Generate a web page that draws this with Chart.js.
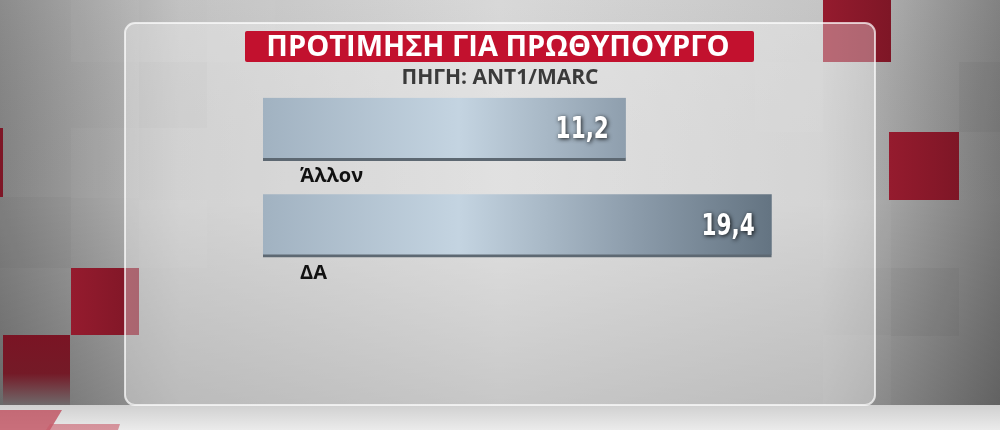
<!DOCTYPE html>
<html>
<head>
<meta charset="utf-8">
<script src="https://cdn.jsdelivr.net/npm/chart.js@4.4.1/dist/chart.umd.min.js"></script>
<style>
  html, body { margin: 0; padding: 0; background: #cfcfcf; }
  #wrap { width: 1000px; height: 430px; position: relative; }
</style>
</head>
<body>
<div id="wrap"><canvas id="pmChart" width="1000" height="430"></canvas></div>
<script>
// Data
const categories = ['Άλλον', 'ΔΑ'];
const values = [11.2, 19.4];
const chartTitle = 'ΠΡΟΤΙΜΗΣΗ ΓΙΑ ΠΡΩΘΥΠΟΥΡΓΟ';
const chartSource = 'ΠΗΓΗ: ΑΝΤ1/MARC';

// the graphic's bars don't start at zero, they start at this axis value
const axisStart = -9.2;
const axisEnd = 22;

// Studio background: grey tiles, red squares, glass panel
const backdrop = {
    id: 'backdrop',
    beforeDraw(chart) {
        const c = chart.ctx;
        const W = chart.width, H = chart.height;
        c.save();

        var g = c.createLinearGradient(0, 0, W, 0);
        g.addColorStop(0, '#848484');
        g.addColorStop(0.18, '#bebebe');
        g.addColorStop(0.5, '#d6d6d6');
        g.addColorStop(0.82, '#c2c2c2');
        g.addColorStop(1, '#7a7a7a');
        c.fillStyle = g;
        c.fillRect(0, 0, W, H);

        var v = c.createLinearGradient(0, 0, 0, 405);
        v.addColorStop(0, 'rgba(255,255,255,0.06)');
        v.addColorStop(0.5, 'rgba(0,0,0,0.02)');
        v.addColorStop(1, 'rgba(0,0,0,0.2)');
        c.fillStyle = v;
        c.fillRect(0, 0, W, 405);

        // faint tiles
        const tiles = [
            [71, 0, 68, 62, 0.03], [139, 62, 68, 66, -0.025], [207, 0, 68, 62, 0.03],
            [755, 62, 68, 70, 0.03], [959, 62, 41, 70, -0.03], [823, 200, 68, 68, 0.03],
            [0, 197, 71, 71, -0.025], [139, 200, 68, 68, 0.03], [891, 268, 68, 68, -0.03],
            [71, 128, 68, 70, 0.03], [823, 335, 68, 70, 0.03]
        ];
        tiles.forEach(function (t) {
            c.fillStyle = t[4] > 0 ? 'rgba(255,255,255,' + t[4] + ')' : 'rgba(0,0,0,' + (-t[4]) + ')';
            c.fillRect(t[0], t[1], t[2], t[3]);
        });

        // red squares
        const reds = [[823, 0, 68, 62], [889, 132, 70, 68], [-67, 128, 70, 69], [71, 268, 68, 67]];
        reds.forEach(function (r) {
            var rg = c.createLinearGradient(r[0], 0, r[0] + r[2], 0);
            rg.addColorStop(0, '#951b2e');
            rg.addColorStop(1, '#7e1626');
            c.fillStyle = rg;
            c.fillRect(r[0], r[1], r[2], r[3]);
        });
        var fade = c.createLinearGradient(0, 335, 0, 405);
        fade.addColorStop(0, '#7a1424');
        fade.addColorStop(0.55, '#741a27');
        fade.addColorStop(1, '#6f6a6b');
        c.fillStyle = fade;
        c.fillRect(3, 335, 67, 70);

        // floor
        var fl = c.createLinearGradient(0, 405, 0, H);
        fl.addColorStop(0, '#d0d0d0');
        fl.addColorStop(1, '#ebebeb');
        c.fillStyle = fl;
        c.fillRect(0, 405, W, H - 405);
        c.fillStyle = 'rgba(190,70,85,0.75)';
        c.beginPath();
        c.moveTo(0, 410); c.lineTo(62, 410); c.lineTo(50, 430); c.lineTo(0, 430);
        c.fill();
        c.fillStyle = 'rgba(200,90,105,0.6)';
        c.beginPath();
        c.moveTo(50, 424); c.lineTo(120, 424); c.lineTo(118, 430); c.lineTo(46, 430);
        c.fill();

        // glass panel
        c.beginPath();
        c.roundRect(125, 23, 750, 382, 10);
        c.fillStyle = 'rgba(255,255,255,0.34)';
        c.fill();
        c.lineWidth = 2;
        c.strokeStyle = 'rgba(255,255,255,0.7)';
        c.stroke();
        c.restore();
    }
};

// Title box, subtitle, value and category labels
const overlay = {
    id: 'overlay',
    afterDatasetsDraw(chart) {
        const c = chart.ctx;
        const meta = chart.getDatasetMeta(0);
        c.save();
        meta.data.forEach(function (bar, i) {
            const p = bar.getProps(['x', 'y', 'base', 'height'], true);
            // value inside the bar end, squeezed like the TV font
            c.save();
            c.font = 'bold 30px "DejaVu Sans Condensed", "Liberation Sans Narrow", sans-serif';
            c.textAlign = 'right';
            c.textBaseline = 'middle';
            c.shadowColor = 'rgba(0,0,0,0.85)';
            c.shadowBlur = 4;
            c.shadowOffsetX = 1;
            c.shadowOffsetY = 1;
            c.fillStyle = '#ffffff';
            c.translate(p.x - 17, p.y + 1);
            c.scale(0.8, 1);
            c.fillText(values[i].toFixed(1).replace('.', ','), 0, 0);
            c.restore();
            // category under the bar
            c.font = 'bold 20px "Open Sans", sans-serif';
            c.textAlign = 'left';
            c.textBaseline = 'middle';
            c.fillStyle = '#111111';
            c.fillText(categories[i], p.base + 37, p.y + p.height / 2 + 16);
        });

        // red title box
        c.fillStyle = '#c2112e';
        c.beginPath();
        c.roundRect(245, 31, 509, 31, 2);
        c.fill();
        c.font = 'bold 29px "Open Sans", sans-serif';
        c.textAlign = 'center';
        c.textBaseline = 'middle';
        c.fillStyle = '#ffffff';
        var tw = c.measureText(chartTitle).width;
        c.save();
        c.translate(498, 47);
        c.scale(Math.min(1, 487 / tw), 1);
        c.fillText(chartTitle, 0, 1);
        c.restore();

        c.font = 'bold 21px "Open Sans", sans-serif';
        c.fillStyle = '#3a3a3a';
        var sw = c.measureText(chartSource).width;
        c.save();
        c.translate(500, 77);
        c.scale(Math.min(1, 212 / sw), 1);
        c.fillText(chartSource, 0, 1);
        c.restore();
        c.restore();
    }
};

const ctx = document.getElementById('pmChart').getContext('2d');

const pmChart = new Chart(ctx, {
    type: 'bar',
    data: {
        labels: categories,
        datasets: [{
            data: values,
            base: axisStart,
            barThickness: 63,
            backgroundColor: function (context) {
                const area = context.chart.chartArea;
                if (!area) return '#a9bac8';
                const g = context.chart.ctx.createLinearGradient(area.left, 0, area.left + 515, 0);
                g.addColorStop(0, '#a1b2c1');
                g.addColorStop(0.38, '#c4d4e1');
                g.addColorStop(0.72, '#8c9cab');
                g.addColorStop(1, '#627280');
                return g;
            },
            borderColor: '#5d6872',
            borderWidth: { top: 0, right: 0, bottom: 3, left: 0 },
            borderSkipped: false
        }]
    },
    plugins: [backdrop, overlay],
    options: {
        indexAxis: 'y',
        responsive: false,
        animation: false,
        layout: {
            padding: { left: 263, right: 182, top: 81, bottom: 156 }
        },
        scales: {
            x: { display: false, min: axisStart, max: axisEnd },
            y: { display: false }
        },
        plugins: {
            legend: { display: false },
            tooltip: { enabled: false }
        }
    }
});
</script>
</body>
</html>
